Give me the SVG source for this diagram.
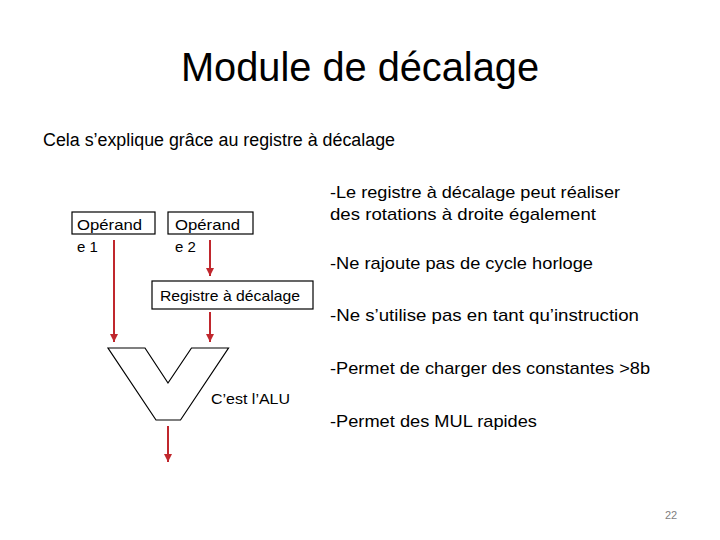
<svg xmlns="http://www.w3.org/2000/svg" width="720" height="540" viewBox="0 0 720 540">
<style>
text{font-family:"Liberation Sans",Arial,sans-serif;fill:#000}
.box{fill:#fff;stroke:#000;stroke-width:1.2}
.conn{stroke:#C0272D;stroke-width:2;fill:none;marker-end:url(#ah)}
.body{font-size:17px}
</style>
<defs>
<marker id="ah" viewBox="0 0 10 10" refX="10" refY="5" markerWidth="4" markerHeight="4" orient="auto" markerUnits="strokeWidth">
<path d="M0,0 L10,5 L0,10 z" fill="#C0272D"/>
</marker>
</defs>
<rect width="720" height="540" fill="#fff"/>
<text x="360" y="81" font-size="40" text-anchor="middle" textLength="358" lengthAdjust="spacingAndGlyphs">Module de décalage</text>
<text x="43" y="146" font-size="18" textLength="352" lengthAdjust="spacingAndGlyphs">Cela s’explique grâce au registre à décalage</text>
<g id="op1">
<rect class="box" x="72" y="212" width="83" height="22"/>
<text x="77" y="230" font-size="15" textLength="65" lengthAdjust="spacingAndGlyphs">Opérand</text>
<text x="77" y="252" font-size="15">e 1</text>
</g>
<g id="op2">
<rect class="box" x="168" y="212" width="85" height="22"/>
<text x="175" y="230" font-size="15" textLength="65" lengthAdjust="spacingAndGlyphs">Opérand</text>
<text x="175" y="252" font-size="15">e 2</text>
</g>
<g id="reg">
<rect class="box" x="152" y="281" width="161" height="28"/>
<text x="160" y="301" font-size="15" textLength="140" lengthAdjust="spacingAndGlyphs">Registre à décalage</text>
</g>
<g id="alu">
<polygon points="108,348 145,348 168,383 191.5,348 228.5,348 180.5,420 156,420" fill="#fff" stroke="#000" stroke-width="1.2"/>
<text x="211" y="404" font-size="15" textLength="79" lengthAdjust="spacingAndGlyphs">C’est l’ALU</text>
</g>
<g id="connectors">
<line class="conn" x1="114" y1="240" x2="114" y2="342"/>
<line class="conn" x1="210" y1="240" x2="210" y2="276"/>
<line class="conn" x1="210" y1="312" x2="210" y2="342"/>
<line class="conn" x1="168" y1="426" x2="168" y2="462"/>
</g>
<g id="notes" class="body">
<text x="330" y="198" textLength="290" lengthAdjust="spacingAndGlyphs">-Le registre à décalage peut réaliser</text>
<text x="330" y="220" textLength="266" lengthAdjust="spacingAndGlyphs">des rotations à droite également</text>
<text x="330" y="269" textLength="263" lengthAdjust="spacingAndGlyphs">-Ne rajoute pas de cycle horloge</text>
<text x="330" y="321" textLength="309" lengthAdjust="spacingAndGlyphs">-Ne s’utilise pas en tant qu’instruction</text>
<text x="330" y="374" textLength="320" lengthAdjust="spacingAndGlyphs">-Permet de charger des constantes &gt;8b</text>
<text x="330" y="427" textLength="207" lengthAdjust="spacingAndGlyphs">-Permet des MUL rapides</text>
</g>
<text x="665" y="519" font-size="11" fill="#7f7f7f" style="fill:#7f7f7f">22</text>
</svg>
